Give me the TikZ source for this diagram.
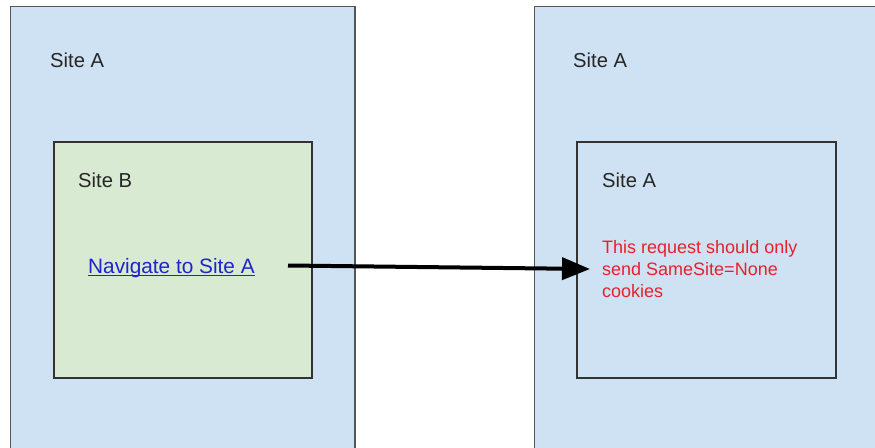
\documentclass[tikz,border=0pt]{standalone}
\usepackage{fontspec}
\setmainfont{Liberation Sans}
\usetikzlibrary{arrows.meta}
\definecolor{paneblue}{HTML}{CFE2F3}
\definecolor{panegreen}{HTML}{D9EAD3}
\definecolor{edgegray}{HTML}{555555}
\definecolor{edgedark}{HTML}{333333}
\definecolor{linkblue}{HTML}{1F24CC}
\definecolor{notered}{HTML}{E8202C}
\tikzset{
  site/.style={draw=edgegray, line width=1.3pt, fill=paneblue},
  frame/.style={draw=edgedark, line width=1.1pt},
  label/.style={anchor=base west, inner sep=0pt, font=\fontsize{20.2}{24}\selectfont, text=black!85},
  link/.style={anchor=base west, inner sep=0pt, font=\fontsize{20.8}{24}\selectfont, text=linkblue},
  linkline/.style={draw=linkblue, line width=1.5pt},
  note/.style={anchor=north west, inner sep=0pt, align=left,
    font=\fontsize{18}{22}\selectfont, text=notered},
  flow/.style={line width=4pt, -{Triangle[length=28pt,width=22pt]}}
}
\begin{document}
\begin{tikzpicture}[x=1pt, y=-1pt]
\useasboundingbox (0,0) rectangle (875,447);
\clip (0,0) rectangle (875,447);

% outer page frames
\filldraw[site] (10.5,6.5) rectangle (355,460);
\filldraw[site] (534.5,6.5) rectangle (890,460);

% embedded frames
\filldraw[frame, fill=panegreen] (54,142) rectangle (312,378);
\draw[frame] (577,142) rectangle (836,378);

% labels
\node[label] (outerA) at (50,67) {Site A};
\node[label] (outerA2) at (573,67) {Site A};
\node[label] (siteB) at (78,187) {Site B};
\node[label] (innerA) at (602,187) {Site A};
\node[link] (navlink) at (88,273) {Navigate to Site A};
\draw[linkline] ([yshift=-2.5pt]navlink.base west) -- ([yshift=-2.5pt]navlink.base east);
\node[note] (notice) at (602,240) {This request should only\\send SameSite=None\\cookies};

% navigation arrow
\coordinate (navfrom) at (288,265.5);
\coordinate (navto) at (590,269);
\draw[flow] (navfrom) -- (navto);
\end{tikzpicture}
\end{document}
